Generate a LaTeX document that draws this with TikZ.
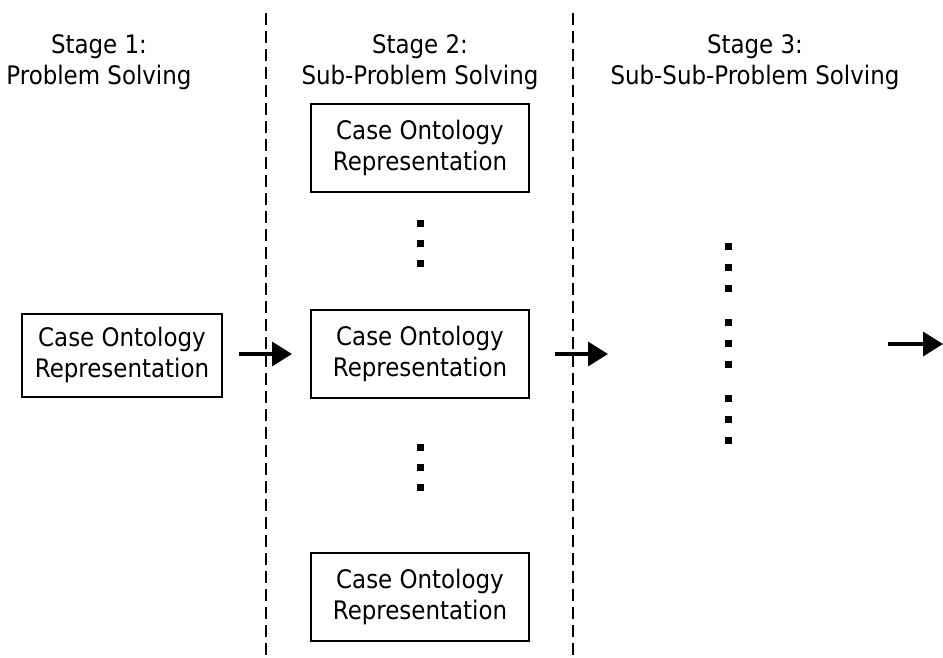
\documentclass[tikz,border=0pt]{standalone}
\usepackage{fontspec}
\setmainfont{DejaVu Sans Condensed}
\usetikzlibrary{arrows.meta}
\begin{document}
\begin{tikzpicture}[x=1pt,y=-1pt,
  txt/.style={font=\fontsize{25.5}{31}\selectfont, align=center, inner sep=0pt},
  cbox/.style={draw, line width=2pt, minimum width=218pt, minimum height=88pt, font=\fontsize{25.5}{31}\selectfont, align=center, inner sep=0pt},
  lbox/.style={cbox, minimum width=200pt, minimum height=83pt},
  divider/.style={dash pattern=on 12pt off 6pt, line width=1.3pt},
  flow/.style={line width=3.5pt, -{Triangle[length=20pt,width=24pt]}},
  dot/.style={fill=black, minimum size=7pt, inner sep=0pt}]
\useasboundingbox (0,0) rectangle (943,657);
\draw[divider] (266,13) -- (266,657);
\draw[divider] (573,13) -- (573,657);
\node[txt] (s1) at (99,62) {Stage 1:\\Problem Solving};
\node[txt] (s2) at (420,62) {Stage 2:\\Sub-Problem Solving};
\node[txt] (s3) at (755,62) {Stage 3:\\Sub-Sub-Problem Solving};
\node[lbox] (b1) at (122,355) {Case Ontology\\Representation};
\node[cbox] (top) at (420,148) {Case Ontology\\Representation};
\node[cbox] (mid) at (420,354) {Case Ontology\\Representation};
\node[cbox] (bot) at (420,597) {Case Ontology\\Representation};
\foreach \y [count=\i] in {223,243,263,447,467,487} \node[dot] (m\i) at (420,\y) {};
\foreach \y [count=\i] in {246,267,288,322,343,364,398,419,440} \node[dot] (r\i) at (728,\y) {};
\coordinate (a2e) at (608,354);
\coordinate (a3s) at (888,344);
\coordinate (a3e) at (943,344);
\draw[flow, shorten <=16pt, shorten >=18pt] (b1.east |- mid.west) -- (mid.west);
\draw[flow, shorten <=25pt] (mid.east) -- (a2e);
\draw[flow] (a3s) -- (a3e);
\end{tikzpicture}
\end{document}
